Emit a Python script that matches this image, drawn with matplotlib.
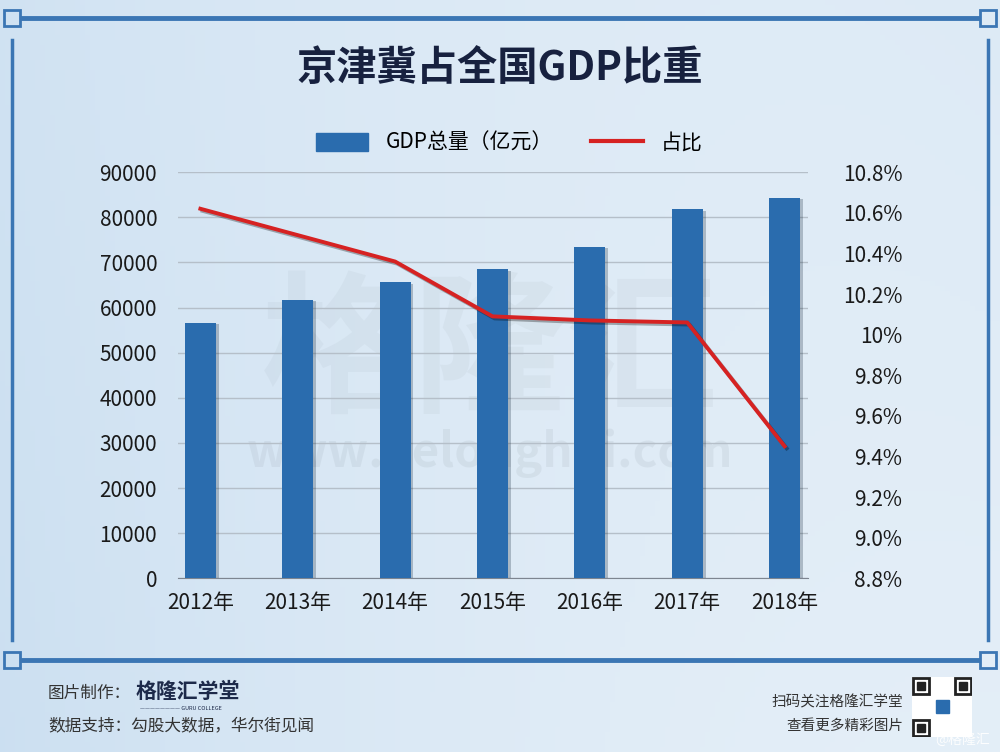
import numpy as np
import matplotlib
matplotlib.use('Agg')
import matplotlib.pyplot as plt
import matplotlib.patheffects as pe
from matplotlib.patches import Rectangle
from matplotlib.lines import Line2D

plt.rcParams['font.family'] = ['Noto Sans CJK SC', 'DejaVu Sans']

years = ['2012年', '2013年', '2014年', '2015年', '2016年', '2017年', '2018年']
gdp = [56600, 61700, 65600, 68500, 73400, 81800, 84300]
share = [10.62, 10.49, 10.36, 10.09, 10.07, 10.06, 9.45]
left_ticks = [0, 10000, 20000, 30000, 40000, 50000, 60000, 70000, 80000, 90000]
right_ticks = [8.8, 9.0, 9.2, 9.4, 9.6, 9.8, 10.0, 10.2, 10.4, 10.6, 10.8]
right_labels = ['8.8%', '9.0%', '9.2%', '9.4%', '9.6%', '9.8%', '10%', '10.2%', '10.4%', '10.6%', '10.8%']

bar_c = '#2a6cae'
line_c = '#d62222'
txt_c = '#1a1a1a'

fig = plt.figure(figsize=(10, 7.52), dpi=100)

# background gradient
bg = fig.add_axes([0, 0, 1, 1], zorder=-10)
gx = np.linspace(0, 1, 200)
gy = np.linspace(0, 1, 150)
X, Y = np.meshgrid(gx, gy)
t = np.clip(0.55 * (1 - X) ** 2 + 0.25 * Y * X + 0.1 * (1 - Y), 0, 1)
c0 = np.array([0.91, 0.945, 0.975])
c1 = np.array([0.74, 0.84, 0.93])
img = c0[None, None, :] * (1 - t[..., None]) + c1[None, None, :] * t[..., None]
bg.imshow(img, extent=[0, 1, 0, 1], aspect='auto', origin='lower')
bg.set_xlim(0, 1)
bg.set_ylim(0, 1)
bg.axis('off')

# frame
fc = '#3b76b4'
def fx(px):
    return px / 1000
def fy(py):
    return 1 - py / 752
bg.plot([fx(22), fx(978)], [fy(18), fy(18)], color=fc, lw=3.5)
bg.plot([fx(22), fx(978)], [fy(660), fy(660)], color=fc, lw=3.5)
bg.plot([fx(12), fx(12)], [fy(40), fy(640)], color=fc, lw=2.5)
bg.plot([fx(988), fx(988)], [fy(40), fy(640)], color=fc, lw=2.5)
for cx, cy in [(12, 18), (988, 18), (12, 660), (988, 660)]:
    bg.add_patch(Rectangle((fx(cx - 8), fy(cy + 8)), 16 / 1000, 16 / 752,
                           fill=False, ec=fc, lw=2))

# watermark
bg.text(0.49, fy(355), '格隆汇', ha='center', va='center', fontsize=110,
        color='#9aa6b0', alpha=0.10, fontweight='bold')
bg.text(0.49, fy(453), 'www.gelonghui.com', ha='center', va='center', fontsize=34,
        color='#9aa6b0', alpha=0.16, fontweight='bold')

# title
fig.text(0.5, fy(68), '京津冀占全国GDP比重', ha='center', va='center',
         fontsize=29, fontweight='bold', color='#17213f')

ax = fig.add_axes([0.178, 0.231, 0.630, 0.540])
ax.patch.set_alpha(0)
x = np.arange(len(years))
ax.bar(x, gdp, width=0.32, color=bar_c, zorder=3,
       path_effects=[pe.SimplePatchShadow(offset=(2, -1), alpha=0.25), pe.Normal()])
ax.set_ylim(0, 90000)
ax.set_xlim(-0.23, 6.24)
ax.set_yticks(left_ticks)
ax.set_yticklabels([str(v) for v in left_ticks])
ax.set_xticks(x)
ax.set_xticklabels(years)
ax.grid(axis='y', color='#b5bfc9', lw=1, zorder=0)
for s in ['top', 'right', 'left']:
    ax.spines[s].set_visible(False)
ax.spines['bottom'].set_color('#7d8590')
ax.tick_params(axis='both', length=0, labelsize=15, colors=txt_c)
ax.tick_params(axis='y', pad=15)
ax.tick_params(axis='x', pad=10)

ax2 = ax.twinx()
ax2.plot(x, share, color=line_c, lw=2.8, zorder=4,
         path_effects=[pe.SimpleLineShadow(offset=(1.5, -1.5), alpha=0.3), pe.Normal()])
ax2.set_ylim(8.8, 10.8)
ax2.set_yticks(right_ticks)
ax2.set_yticklabels(right_labels, ha='right')
ax2.tick_params(axis='y', length=0, labelsize=15, colors=txt_c, pad=68)
for s in ax2.spines.values():
    s.set_visible(False)

handles = [Rectangle((0, 0), 1, 1, color=bar_c), Line2D([0], [0], color=line_c, lw=3)]
fig.legend(handles, ['GDP总量（亿元）', '占比'], loc='center', bbox_to_anchor=(0.509, fy(143)),
           ncol=2, frameon=False, fontsize=15, handlelength=2.5, handleheight=1.0,
           columnspacing=1.8, handletextpad=0.85)

# footer
fig.text(fx(48), fy(693), '图片制作：', fontsize=12, color='#333333', va='center')
fig.text(fx(136), fy(691), '格隆汇学堂', fontsize=15, fontweight='bold', color='#1d2a4a', va='center')
fig.text(fx(140), fy(708), '———————— GURU COLLEGE', fontsize=4, color='#1d2a4a', va='center')
fig.text(fx(48), fy(726), '数据支持：勾股大数据，华尔街见闻', fontsize=12, color='#333333', va='center')
fig.text(fx(903), fy(702), '扫码关注格隆汇学堂', fontsize=10.5, color='#333333', va='center', ha='right')
fig.text(fx(903), fy(726), '查看更多精彩图片', fontsize=10.5, color='#333333', va='center', ha='right')
fig.text(fx(990), fy(740), '@格隆汇', fontsize=10, color='white', va='center', ha='right', alpha=0.9)

# qr placeholder
qa = fig.add_axes([fx(912), fy(737), 60 / 1000, 60 / 752])
qa.set_xlim(0, 1)
qa.set_ylim(0, 1)
qa.axis('off')
qa.add_patch(Rectangle((0, 0), 1, 1, color='white'))
for qx, qy in [(0.02, 0.72), (0.72, 0.72), (0.02, 0.02)]:
    qa.add_patch(Rectangle((qx, qy), 0.26, 0.26, fc='white', ec='#222222', lw=2))
    qa.add_patch(Rectangle((qx + 0.07, qy + 0.07), 0.12, 0.12, color='#222222'))
qa.add_patch(Rectangle((0.4, 0.4), 0.22, 0.22, color='#2a6cae'))

fig.savefig('out.png', dpi=100)
